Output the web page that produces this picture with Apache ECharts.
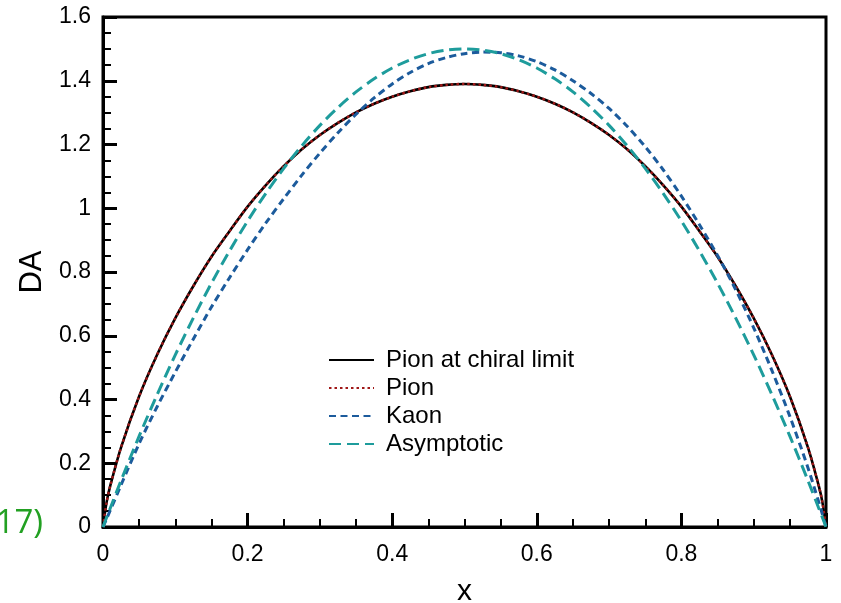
<!DOCTYPE html>
<html>
<head>
<meta charset="utf-8">
<script src="https://cdn.jsdelivr.net/npm/echarts@6/dist/echarts.min.js"></script>
<style>
html,body{margin:0;padding:0;background:#fff;}
#chart{width:841px;height:603px;}
</style>
</head>
<body>
<div id="chart"></div>
<script>
// Sample positions along x (momentum fraction)
var xs = [0, 0.005, 0.01, 0.025, 0.05, 0.075, 0.1, 0.125, 0.15, 0.175, 0.2, 0.225, 0.25, 0.275, 0.3,
          0.325, 0.35, 0.375, 0.4, 0.425, 0.45, 0.475, 0.5, 0.525, 0.55, 0.575, 0.6, 0.625, 0.65,
          0.675, 0.7, 0.725, 0.75, 0.775, 0.8, 0.825, 0.85, 0.875, 0.9, 0.925, 0.95, 0.975, 0.99, 0.995, 1];

var seriesNames = ['Pion at chiral limit', 'Pion', 'Kaon', 'Asymptotic'];

var pionChiral = [0, 0.078, 0.129, 0.25, 0.41, 0.541, 0.655, 0.756, 0.848, 0.928, 1.005, 1.072, 1.132, 1.185, 1.23,
                  1.268, 1.301, 1.328, 1.35, 1.367, 1.38, 1.387, 1.39, 1.387, 1.38, 1.367, 1.35, 1.328, 1.301,
                  1.268, 1.23, 1.185, 1.132, 1.072, 1.005, 0.928, 0.848, 0.756, 0.655, 0.541, 0.41, 0.25, 0.129, 0.078, 0];

var pion = [0, 0.078, 0.129, 0.25, 0.41, 0.541, 0.655, 0.756, 0.848, 0.928, 1.005, 1.072, 1.132, 1.185, 1.23,
            1.268, 1.301, 1.328, 1.35, 1.367, 1.38, 1.387, 1.39, 1.387, 1.38, 1.367, 1.35, 1.328, 1.301,
            1.268, 1.23, 1.185, 1.132, 1.072, 1.005, 0.928, 0.848, 0.756, 0.655, 0.541, 0.41, 0.25, 0.129, 0.078, 0];

var kaon = [0, 0.026, 0.052, 0.132, 0.262, 0.378, 0.486, 0.59, 0.69, 0.782, 0.87, 0.953, 1.03, 1.104, 1.173,
            1.237, 1.295, 1.346, 1.39, 1.426, 1.454, 1.473, 1.485, 1.49, 1.488, 1.478, 1.46, 1.434, 1.40,
            1.36, 1.313, 1.257, 1.193, 1.12, 1.038, 0.948, 0.852, 0.745, 0.625, 0.492, 0.347, 0.186, 0.078, 0.04, 0];

var asymptotic = [0, 0.030, 0.059, 0.146, 0.285, 0.416, 0.54, 0.656, 0.765, 0.866, 0.96, 1.046, 1.125, 1.196, 1.26,
                  1.316, 1.365, 1.406, 1.44, 1.466, 1.485, 1.496, 1.5, 1.496, 1.485, 1.466, 1.44, 1.406, 1.365,
                  1.316, 1.26, 1.196, 1.125, 1.046, 0.96, 0.866, 0.765, 0.656, 0.54, 0.416, 0.285, 0.146, 0.059, 0.030, 0];

var xTicks = [0, 0.2, 0.4, 0.6, 0.8, 1];
var yTicks = [0, 0.2, 0.4, 0.6, 0.8, 1, 1.2, 1.4, 1.6];

function pairs(vals) {
  return xs.map(function (x, i) { return [x, vals[i]]; });
}

var FONT = 'Liberation Sans, Arial, Helvetica, sans-serif';

var chart = echarts.init(document.getElementById('chart'), null, {renderer: 'canvas'});

var axisCommon = {
  axisLine: {show: true, onZero: false, lineStyle: {color: '#000', width: 3}},
  axisTick: {show: true, inside: true, length: 14, lineStyle: {color: '#000', width: 3}},
  minorTick: {show: true, splitNumber: 4, length: 8, lineStyle: {color: '#000', width: 2}},
  splitLine: {show: false},
  axisLabel: {color: '#000', fontSize: 23, fontFamily: FONT}
};

var option = {
  animation: false,
  backgroundColor: '#fff',
  grid: {left: 103, right: 15, top: 17, bottom: 76, containLabel: false, outerBoundsMode: 'none',
         show: true, borderColor: '#000', borderWidth: 3, backgroundColor: 'transparent'},
  legend: {
    orient: 'vertical',
    left: 328,
    top: 348,
    padding: 0,
    itemGap: 4,
    itemWidth: 45,
    itemHeight: 14,
    data: seriesNames,
    itemStyle: {opacity: 0},
    textStyle: {color: '#000', fontSize: 24, fontFamily: FONT, padding: [0, 0, 0, 7]}
  },
  xAxis: Object.assign({}, axisCommon, {
    type: 'value', min: xTicks[0], max: xTicks[xTicks.length - 1], interval: 0.2,
    name: 'x', nameLocation: 'middle', nameGap: 50,
    nameTextStyle: {color: '#000', fontSize: 30, fontFamily: FONT},
    axisLabel: {color: '#000', fontSize: 23, fontFamily: FONT, margin: 16}
  }),
  yAxis: Object.assign({}, axisCommon, {
    type: 'value', min: yTicks[0], max: yTicks[yTicks.length - 1], interval: 0.2,
    name: 'DA', nameLocation: 'middle', nameGap: 52, nameRotate: 90,
    nameTextStyle: {color: '#000', fontSize: 31, fontFamily: FONT},
    axisLabel: {color: '#000', fontSize: 23, fontFamily: FONT, margin: 12}
  }),
  graphic: [{
    type: 'text', right: 798, top: 507,
    style: {text: '17)', fill: '#22a022', font: '33px "Open Sans", sans-serif'}
  }],
  series: [
    {name: seriesNames[0], type: 'line', data: pairs(pionChiral), smooth: 0.3, showSymbol: false, symbol: 'none',
     lineStyle: {color: '#000', width: 2.6, type: 'solid'}, itemStyle: {color: '#000'}, z: 2},
    {name: seriesNames[1], type: 'line', data: pairs(pion), smooth: 0.3, showSymbol: false, symbol: 'none',
     lineStyle: {color: '#a01818', width: 2.4, type: [2.5, 3]}, itemStyle: {color: '#a01818'}, z: 3},
    {name: seriesNames[2], type: 'line', data: pairs(kaon), smooth: 0.3, showSymbol: false, symbol: 'none',
     lineStyle: {color: '#1c5b9c', width: 3, type: [7, 4.5]}, itemStyle: {color: '#1c5b9c'}, z: 4},
    {name: seriesNames[3], type: 'line', data: pairs(asymptotic), smooth: 0.3, showSymbol: false, symbol: 'none',
     lineStyle: {color: '#1e9c9c', width: 3, type: [12, 6]}, itemStyle: {color: '#1e9c9c'}, z: 5}
  ]
};

chart.setOption(option);
</script>
</body>
</html>
